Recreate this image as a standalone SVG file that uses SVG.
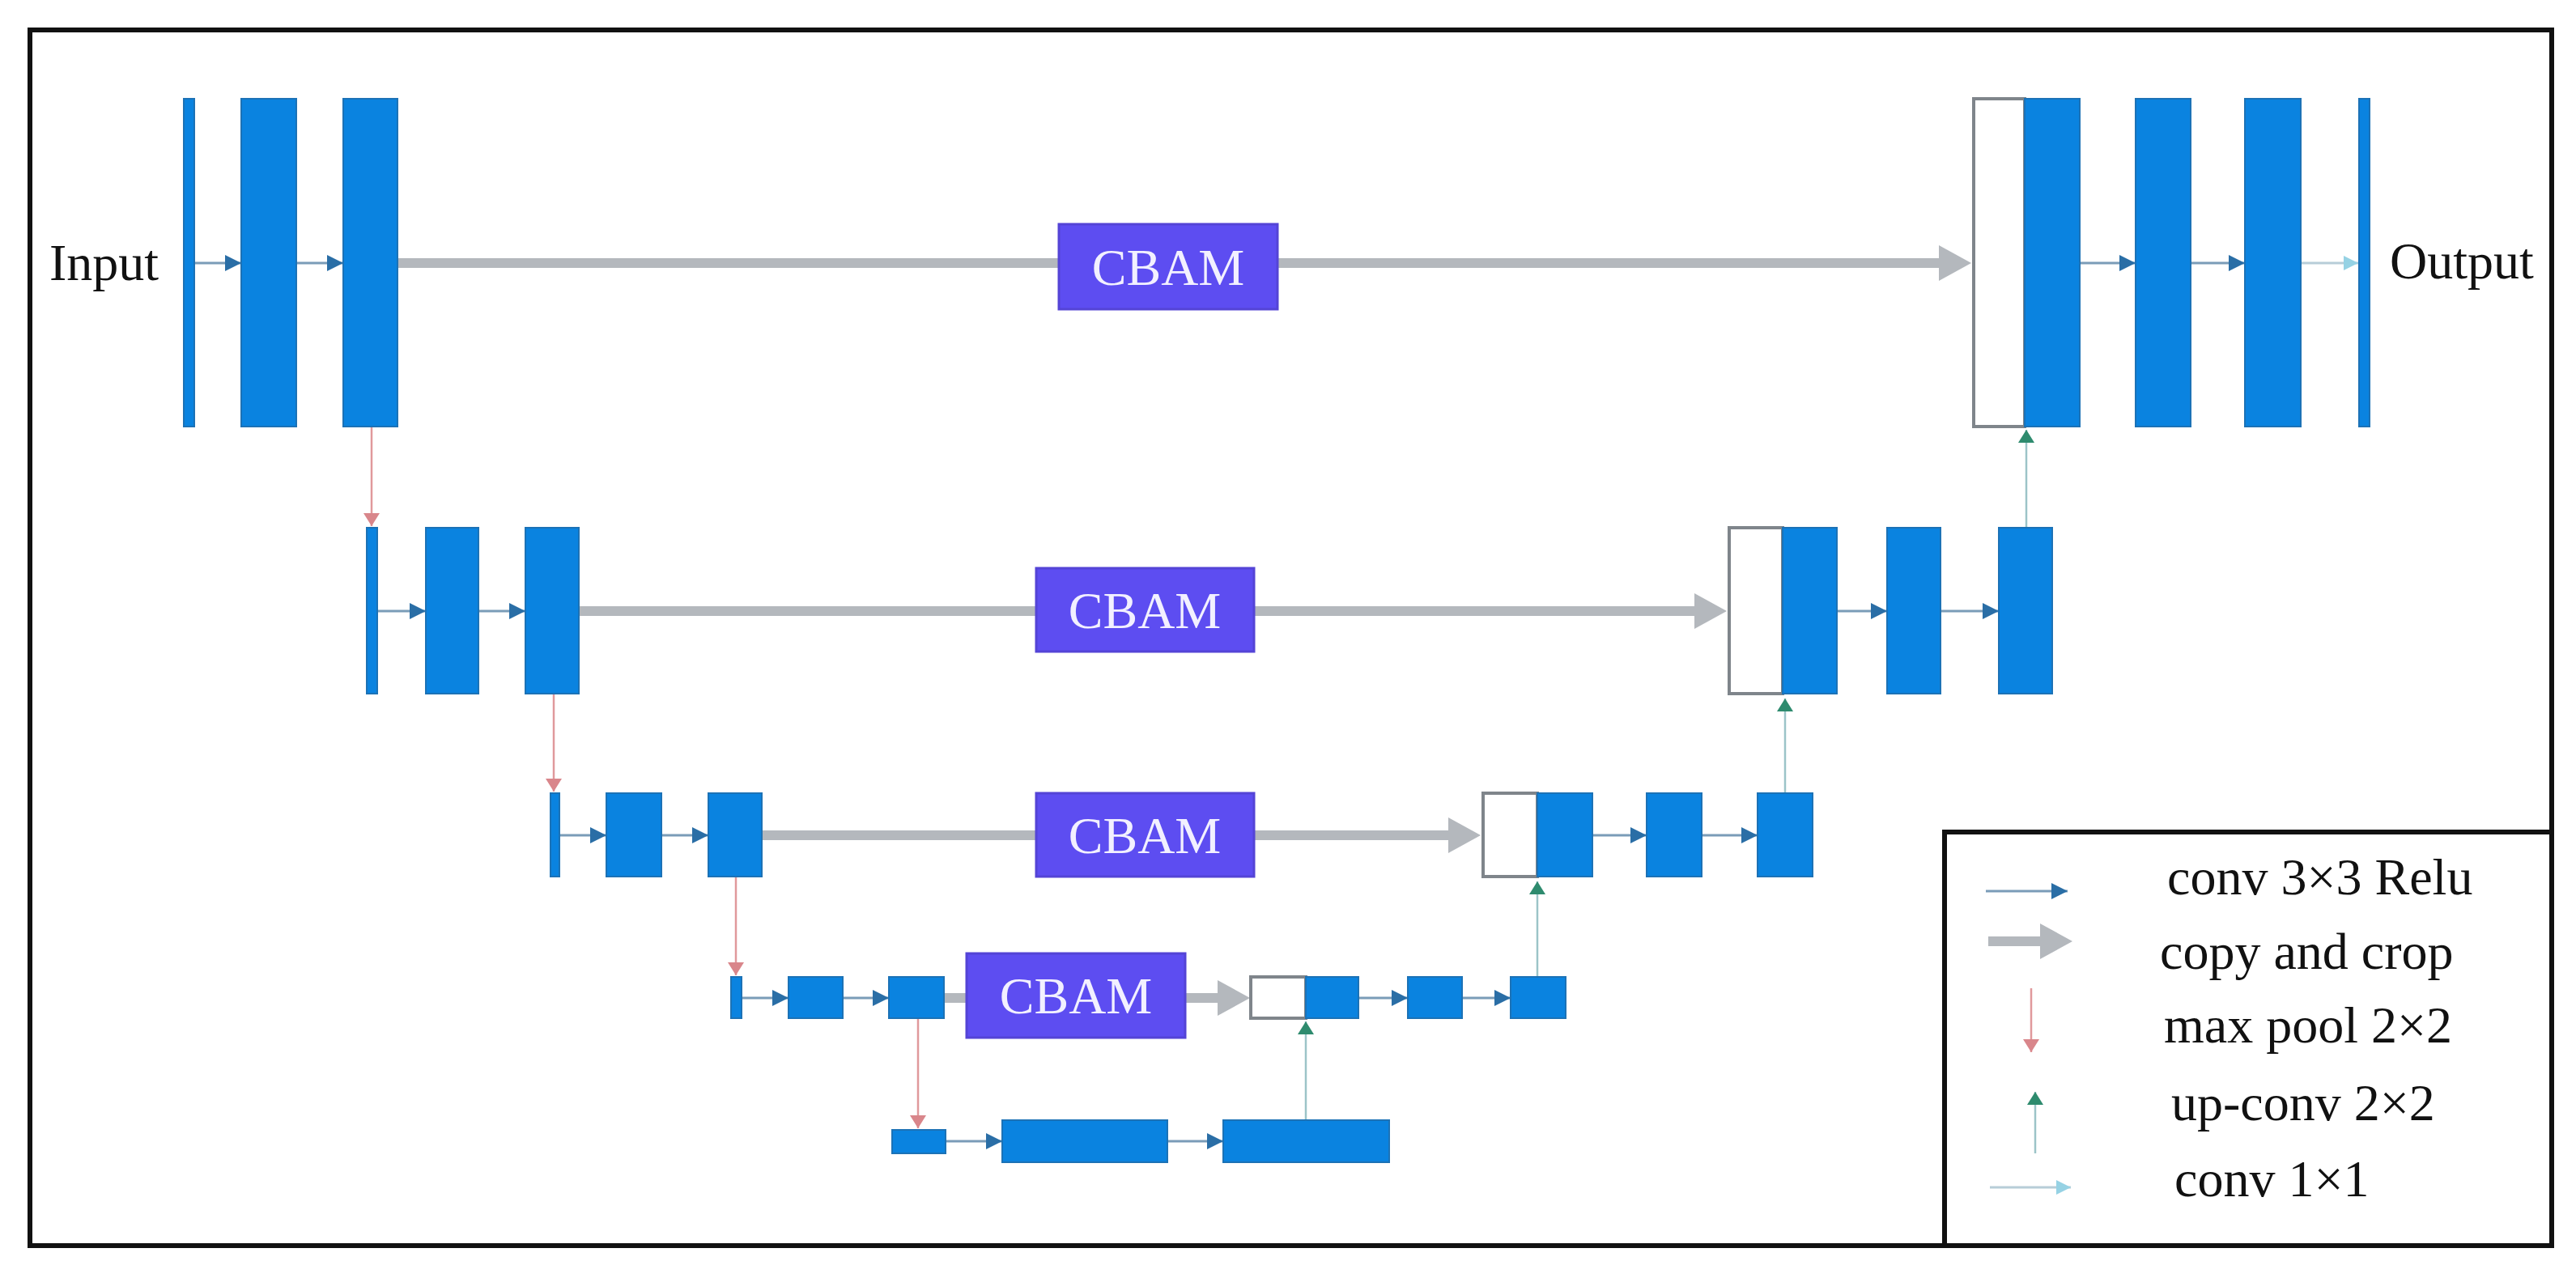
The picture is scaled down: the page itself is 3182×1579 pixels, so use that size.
<svg xmlns="http://www.w3.org/2000/svg" width="3182" height="1579" viewBox="0 0 3182 1579">
<style>
.blk{fill:#0a83e0;stroke:#1c72b6;stroke-width:2}
.hol{fill:#ffffff;stroke:#7f858b;stroke-width:4}
.cbam{fill:#5d4df1;stroke:#5444d6;stroke-width:3}
.cbt{font-family:"Liberation Serif","Times New Roman",serif;font-size:64px;fill:#f2f0ff;text-anchor:middle}
.lbl{font-family:"Liberation Serif","Times New Roman",serif;font-size:64px;fill:#111111}
.conv{stroke:#7a9cb8;stroke-width:3;fill:none;marker-end:url(#mconv)}
.c11{stroke:#b7cdd8;stroke-width:3;fill:none;marker-end:url(#m11)}
.pool{stroke:#e0999c;stroke-width:2.5;fill:none;marker-end:url(#mpool)}
.up{stroke:#9cc4c8;stroke-width:2.5;fill:none;marker-end:url(#mup)}
.copy{stroke:#b4b8bd;stroke-width:12;fill:none;marker-end:url(#mcopy)}
.copyh{fill:#b4b8bd}
.frame{fill:none;stroke:#111111;stroke-width:6}
</style>
<defs>
<marker id="mconv" markerUnits="userSpaceOnUse" markerWidth="20" markerHeight="20" refX="20" refY="10" orient="auto"><path d="M0,0 L20,10 L0,20 z" fill="#2a6ea6"/></marker>
<marker id="m11" markerUnits="userSpaceOnUse" markerWidth="18" markerHeight="18" refX="18" refY="9" orient="auto"><path d="M0,0 L18,9 L0,18 z" fill="#96d2e4"/></marker>
<marker id="mpool" markerUnits="userSpaceOnUse" markerWidth="16" markerHeight="20" refX="16" refY="10" orient="auto"><path d="M0,0 L16,10 L0,20 z" fill="#d9868b"/></marker>
<marker id="mup" markerUnits="userSpaceOnUse" markerWidth="16" markerHeight="20" refX="16" refY="10" orient="auto"><path d="M0,0 L16,10 L0,20 z" fill="#2e8b6e"/></marker>
<marker id="mcopy" markerUnits="userSpaceOnUse" markerWidth="40" markerHeight="44" refX="0" refY="22" orient="auto"><path d="M0,0 L40,22 L0,44 z" fill="#b4b8bd"/></marker>
</defs>
<rect width="3182" height="1579" fill="#ffffff"/>
<rect class="frame" x="37" y="37" width="3115" height="1502"/>

<g id="connectors">
<!-- copy and crop -->
<path class="copy" d="M491,325 H2395"/>
<path class="copy" d="M715,755 H2093"/>
<path class="copy" d="M941,1032 H1789"/>
<path class="copy" d="M1166,1233 H1504"/>
<!-- conv 3x3 level 1 -->
<path class="conv" d="M240,325 H298"/>
<path class="conv" d="M366,325 H424"/>
<path class="conv" d="M2569,325 H2638"/>
<path class="conv" d="M2706,325 H2773"/>
<path class="c11" d="M2842,325 H2913"/>
<!-- level 2 -->
<path class="conv" d="M466,755 H526"/>
<path class="conv" d="M591,755 H649"/>
<path class="conv" d="M2269,755 H2331"/>
<path class="conv" d="M2397,755 H2469"/>
<!-- level 3 -->
<path class="conv" d="M691,1032 H749"/>
<path class="conv" d="M817,1032 H875"/>
<path class="conv" d="M1967,1032 H2034"/>
<path class="conv" d="M2102,1032 H2171"/>
<!-- level 4 -->
<path class="conv" d="M916,1233 H974"/>
<path class="conv" d="M1041,1233 H1098"/>
<path class="conv" d="M1678,1233 H1739"/>
<path class="conv" d="M1806,1233 H1866"/>
<!-- level 5 -->
<path class="conv" d="M1168,1410 H1238"/>
<path class="conv" d="M1442,1410 H1511"/>
<!-- max pool -->
<path class="pool" d="M459,527 V650"/>
<path class="pool" d="M684,857 V978"/>
<path class="pool" d="M909,1083 V1205"/>
<path class="pool" d="M1134,1258 V1394"/>
<!-- up-conv -->
<path class="up" d="M1613,1384 V1262"/>
<path class="up" d="M1899,1207 V1089"/>
<path class="up" d="M2205,980 V863"/>
<path class="up" d="M2503,652 V531"/>
</g>

<g id="level1-encoder">
<rect class="blk" x="227" y="122" width="13" height="405"/>
<rect class="blk" x="298" y="122" width="68" height="405"/>
<rect class="blk" x="424" y="122" width="67" height="405"/>
</g>
<g id="level1-decoder">
<rect class="hol" x="2438" y="122" width="63" height="405"/>
<rect class="blk" x="2501" y="122" width="68" height="405"/>
<rect class="blk" x="2638" y="122" width="68" height="405"/>
<rect class="blk" x="2773" y="122" width="69" height="405"/>
<rect class="blk" x="2914" y="122" width="13" height="405"/>
</g>
<g id="level2-encoder">
<rect class="blk" x="453" y="652" width="13" height="205"/>
<rect class="blk" x="526" y="652" width="65" height="205"/>
<rect class="blk" x="649" y="652" width="66" height="205"/>
</g>
<g id="level2-decoder">
<rect class="hol" x="2136" y="652" width="66" height="205"/>
<rect class="blk" x="2202" y="652" width="67" height="205"/>
<rect class="blk" x="2331" y="652" width="66" height="205"/>
<rect class="blk" x="2469" y="652" width="66" height="205"/>
</g>
<g id="level3-encoder">
<rect class="blk" x="680" y="980" width="11" height="103"/>
<rect class="blk" x="749" y="980" width="68" height="103"/>
<rect class="blk" x="875" y="980" width="66" height="103"/>
</g>
<g id="level3-decoder">
<rect class="hol" x="1832" y="980" width="67" height="103"/>
<rect class="blk" x="1899" y="980" width="68" height="103"/>
<rect class="blk" x="2034" y="980" width="68" height="103"/>
<rect class="blk" x="2171" y="980" width="68" height="103"/>
</g>
<g id="level4-encoder">
<rect class="blk" x="903" y="1207" width="13" height="51"/>
<rect class="blk" x="974" y="1207" width="67" height="51"/>
<rect class="blk" x="1098" y="1207" width="68" height="51"/>
</g>
<g id="level4-decoder">
<rect class="hol" x="1545" y="1207" width="68" height="51"/>
<rect class="blk" x="1613" y="1207" width="65" height="51"/>
<rect class="blk" x="1739" y="1207" width="67" height="51"/>
<rect class="blk" x="1866" y="1207" width="68" height="51"/>
</g>
<g id="level5-bottleneck">
<rect class="blk" x="1102" y="1396" width="66" height="29"/>
<rect class="blk" x="1238" y="1384" width="204" height="52"/>
<rect class="blk" x="1511" y="1384" width="205" height="52"/>
</g>

<g id="cbam1"><rect class="cbam" x="1308" y="277" width="270" height="105"/><text class="cbt" x="1443" y="352">CBAM</text></g>
<g id="cbam2"><rect class="cbam" x="1280" y="702" width="269" height="103"/><text class="cbt" x="1414" y="776">CBAM</text></g>
<g id="cbam3"><rect class="cbam" x="1280" y="980" width="269" height="103"/><text class="cbt" x="1414" y="1054">CBAM</text></g>
<g id="cbam4"><rect class="cbam" x="1194" y="1178" width="270" height="104"/><text class="cbt" x="1329" y="1252">CBAM</text></g>

<g id="input-label"><text class="lbl" x="61" y="346">Input</text></g>
<g id="output-label"><text class="lbl" x="2952" y="344">Output</text></g>

<g id="legend">
<rect class="frame" x="2402" y="1028" width="750" height="511"/>
<path class="conv" d="M2453,1101 H2554"/>
<text class="lbl" x="2677" y="1105">conv 3×3 Relu</text>
<path class="copy" d="M2456,1163 H2520"/>
<text class="lbl" x="2668" y="1197">copy and crop</text>
<path class="pool" d="M2509,1221 V1300"/>
<text class="lbl" x="2673" y="1288">max pool 2×2</text>
<path class="up" d="M2514,1425 V1349"/>
<text class="lbl" x="2682" y="1384">up-conv 2×2</text>
<path class="c11" d="M2458,1467 H2558"/>
<text class="lbl" x="2686" y="1478">conv 1×1</text>
</g>
</svg>
